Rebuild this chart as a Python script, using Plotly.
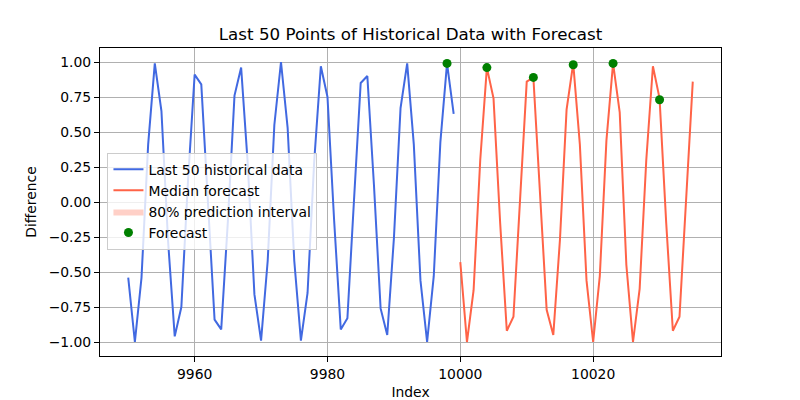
import plotly.graph_objects as go

# last 50 historical points (index 9950..9999)
hist_index = list(range(9950, 10000))
hist_values = [
    -0.54, -1.00, -0.54, 0.41, 0.99, 0.65, -0.28, -0.96, -0.75, 0.15,
    0.91, 0.84, 0.00, -0.84, -0.91, -0.14, 0.76, 0.96, 0.27, -0.66,
    -0.99, -0.42, 0.55, 1.00, 0.53, -0.42, -0.99, -0.65, 0.29, 0.97,
    0.75, -0.13, -0.91, -0.83, 0.02, 0.85, 0.90, 0.12, -0.76, -0.95,
    -0.26, 0.67, 0.99, 0.41, -0.56, -1.00, -0.53, 0.43, 0.99, 0.63,
]

# median forecast (index 10000..10035)
fc_index = list(range(10000, 10036))
fc_median = [
    -0.43, -1.00, -0.63, 0.30, 0.96, 0.74, -0.15, -0.92, -0.82, 0.00,
    0.86, 0.89, 0.03, -0.77, -0.95, -0.27, 0.66, 0.99, 0.41, -0.56,
    -1.00, -0.53, 0.44, 0.99, 0.64, -0.45, -1.00, -0.62, 0.30, 0.97,
    0.74, -0.15, -0.92, -0.82, 0.02, 0.86,
]
# interval is not visibly wider than the median line
fc_lower = list(fc_median)
fc_upper = list(fc_median)

# green forecast markers
point_index = [9998, 10004, 10011, 10017, 10023, 10030]
point_values = [0.99, 0.96, 0.89, 0.98, 0.99, 0.73]

x_ticks = [9960, 9980, 10000, 10020]
y_ticks = [-1.0, -0.75, -0.5, -0.25, 0.0, 0.25, 0.5, 0.75, 1.0]

FONT = "DejaVu Sans"
FS = 13.9

fig = go.Figure()
fig.add_trace(go.Scatter(
    x=hist_index, y=hist_values, mode="lines",
    line=dict(color="#4169E1", width=2),
    name="Last 50 historical data",
))
fig.add_trace(go.Scatter(
    x=fc_index, y=fc_median, mode="lines",
    line=dict(color="#FF6347", width=2),
    name="Median forecast",
))
fig.add_trace(go.Scatter(
    x=fc_index, y=fc_lower, mode="lines",
    line=dict(width=0), showlegend=False, hoverinfo="skip",
))
fig.add_trace(go.Scatter(
    x=fc_index, y=fc_upper, mode="lines", fill="tonexty",
    fillcolor="rgba(255,99,71,0.3)", line=dict(width=0),
    name="80% prediction interval",
))
fig.add_trace(go.Scatter(
    x=point_index, y=point_values, mode="markers",
    marker=dict(color="#008000", size=9),
    name="Forecast",
))

axis_style = dict(
    showline=True, linecolor="black", linewidth=1, mirror=True,
    ticks="outside", ticklen=5, tickwidth=1, tickcolor="black",
    showgrid=True, gridcolor="#b0b0b0", gridwidth=1, zeroline=False,
    tickfont=dict(family=FONT, size=FS, color="black"),
    automargin=False,
)

fig.update_xaxes(
    range=[9945.75, 10039.25], tickvals=x_ticks, tickformat="d",
    title=dict(text="Index", font=dict(family=FONT, size=FS, color="black"), standoff=6),
    **axis_style,
)
fig.update_yaxes(
    range=[-1.1, 1.1], tickvals=y_ticks, tickformat=".2f",
    title=dict(text="Difference", font=dict(family=FONT, size=FS, color="black"), standoff=8),
    **axis_style,
)

# the page puts the figure 8px in from the top-left corner
fig.update_layout(
    width=800, height=400,
    margin=dict(l=92, r=87, t=40, b=52),
    plot_bgcolor="white", paper_bgcolor="white",
    font=dict(family=FONT, size=FS, color="black"),
    title=dict(
        text="Last 50 Points of Historical Data with Forecast",
        font=dict(family=FONT, size=16.7, color="black"),
        xref="paper", x=0.5, xanchor="center", y=0.935, yanchor="middle",
    ),
    legend=dict(
        x=0.012, y=0.66, xanchor="left", yanchor="top",
        bgcolor="rgba(255,255,255,0.8)", bordercolor="#cccccc", borderwidth=1,
        font=dict(family=FONT, size=FS, color="black"),
        traceorder="normal",
    ),
    showlegend=True,
)

fig.write_html("out.html")
